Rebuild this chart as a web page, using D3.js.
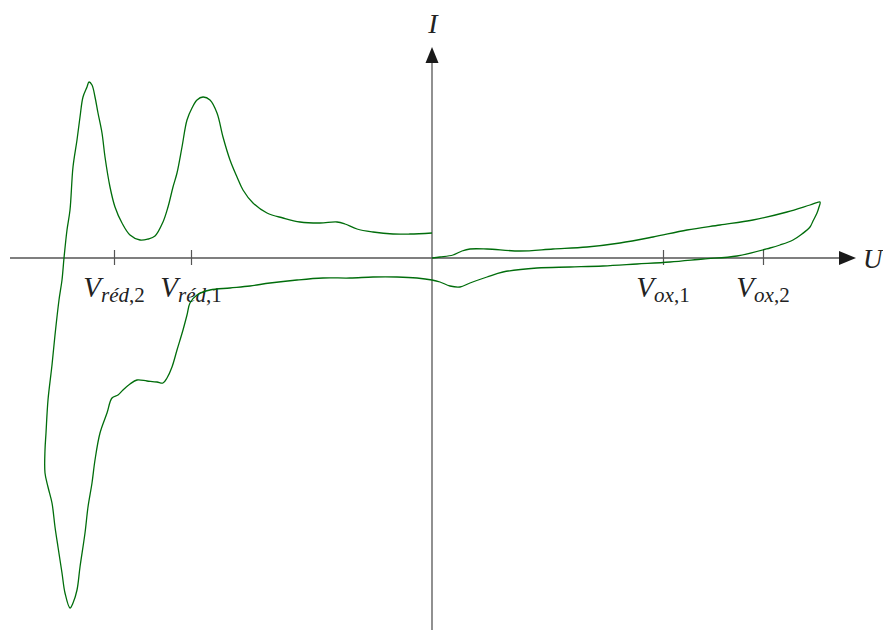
<!DOCTYPE html>
<html>
<head>
<meta charset="utf-8">
<script src="https://cdn.jsdelivr.net/npm/d3@7"></script>
<style>
  html, body { margin: 0; padding: 0; background: #fff; }
  svg { display: block; }
  text { font-family: "Liberation Serif", "DejaVu Serif", serif; font-style: italic; fill: #222; }
</style>
</head>
<body>
<svg id="chart" width="883" height="630"></svg>
<script>
// Voltammogram trace (U in V-like units, I in arbitrary units), in scan order
const uValues = [
  0, 0.04, 0.105, 0.15, 0.19, 0.275, 0.44, 0.605, 0.775, 0.94, 1.105, 1.275, 1.44, 1.605, 1.775, 1.89, 1.94,
  1.935, 1.925, 1.905, 1.89, 1.85, 1.805, 1.74, 1.69, 1.525, 1.355, 1.19, 1.025, 0.855, 0.69, 0.525, 0.355,
  0.275, 0.19, 0.14, 0.09, 0.04, 0,
  -0.075, -0.175, -0.295, -0.41, -0.545, -0.675, -0.81, -0.91, -1.01, -1.11, -1.175, -1.21, -1.225, -1.245,
  -1.275, -1.30, -1.325, -1.345, -1.375, -1.425, -1.475, -1.51, -1.545, -1.57, -1.60, -1.625, -1.66, -1.685,
  -1.70, -1.72, -1.735, -1.76, -1.775, -1.795, -1.81, -1.835, -1.85, -1.87, -1.885, -1.90, -1.92, -1.935,
  -1.935, -1.93, -1.92, -1.90, -1.885, -1.865, -1.85, -1.84, -1.825, -1.81, -1.795, -1.775, -1.76, -1.745,
  -1.725, -1.715, -1.70, -1.685, -1.67, -1.65, -1.635, -1.61, -1.585, -1.55, -1.51, -1.46, -1.42, -1.385,
  -1.345, -1.32, -1.295, -1.275, -1.25, -1.225, -1.20, -1.175, -1.145, -1.11, -1.075, -1.045, -1.01, -0.975,
  -0.945, -0.895, -0.825, -0.745, -0.66, -0.56, -0.475, -0.435, -0.375, -0.295, -0.195, -0.11, 0
];
const iValues = [
  0, 0.01, 0.03, 0.07, 0.09, 0.09, 0.07, 0.09, 0.11, 0.15, 0.21, 0.28, 0.33, 0.38, 0.46, 0.53, 0.56,
  0.51, 0.45, 0.37, 0.31, 0.24, 0.18, 0.13, 0.10, 0.02, -0.01, -0.04, -0.06, -0.08, -0.09, -0.10, -0.14,
  -0.19, -0.25, -0.29, -0.28, -0.24, -0.22,
  -0.20, -0.19, -0.19, -0.20, -0.20, -0.22, -0.25, -0.28, -0.30, -0.32, -0.37, -0.45, -0.57, -0.72,
  -0.92, -1.09, -1.20, -1.25, -1.24, -1.23, -1.22, -1.26, -1.32, -1.37, -1.40, -1.55, -1.75, -2.02,
  -2.25, -2.49, -2.75, -3.09, -3.32, -3.45, -3.50, -3.35, -3.15, -2.89, -2.69, -2.45, -2.29, -2.15,
  -1.92, -1.75, -1.42, -1.07, -0.77, -0.42, -0.22, 0, 0.28, 0.48, 0.91, 1.18, 1.41, 1.61,
  1.71, 1.76, 1.73, 1.61, 1.45, 1.25, 1.01, 0.71, 0.51, 0.35, 0.23, 0.18, 0.19, 0.22,
  0.36, 0.51, 0.71, 0.85, 1.11, 1.38, 1.50, 1.58, 1.61, 1.58, 1.45, 1.21, 0.98, 0.81,
  0.68, 0.55, 0.45, 0.40, 0.36, 0.35, 0.36, 0.34, 0.29, 0.26, 0.24, 0.24, 0.25
];

// Characteristic potentials on the U axis
const tickValues = [-1.59, -1.205, 1.155, 1.655];
const tickMain = ["V", "V", "V", "V"];
const tickSubLetters = ["réd", "réd", "ox", "ox"];
const tickSubIndex = [",2", ",1", ",1", ",2"];

const axisLabelU = "U";
const axisLabelI = "I";

const svg = d3.select("#chart");
const x = d3.scaleLinear().domain([-2.11, 2.12]).range([10, 856]);
const y = d3.scaleLinear().domain([2.11, -3.72]).range([47, 630]);

const x0 = x(0), y0 = y(0);
const axisColor = "#555";
const arrowColor = "#1a1a1a";

// Horizontal axis with ticks
const xAxis = d3.axisBottom(x).tickValues(tickValues).tickSizeInner(7).tickSizeOuter(0).tickFormat("");
const gx = svg.append("g").attr("transform", `translate(0,${y0})`).call(xAxis);
gx.select(".domain").attr("stroke", axisColor).attr("stroke-width", 1.3).attr("d", `M${x.range()[0]},0H${x.range()[1]-8}`);
gx.selectAll(".tick line").attr("stroke", axisColor).attr("stroke-width", 1.2).attr("y1", -8).attr("y2", 7);

// Vertical axis
const yAxis = d3.axisLeft(y).tickValues([]).tickSizeOuter(0);
const gy = svg.append("g").attr("transform", `translate(${x0},0)`).call(yAxis);
gy.select(".domain").attr("stroke", axisColor).attr("stroke-width", 1.3).attr("d", `M0,${y.range()[1]}V${y.range()[0]+8}`);

// Arrowheads
const xEnd = x.range()[1];
svg.append("path")
  .attr("d", `M${xEnd},${y0} L${xEnd-17},${y0-7} L${xEnd-17},${y0+7} Z`)
  .attr("fill", arrowColor);
const yEnd = y.range()[0];
svg.append("path")
  .attr("d", `M${x0},${yEnd} L${x0-6.5},${yEnd+16} L${x0+6.5},${yEnd+16} Z`)
  .attr("fill", arrowColor);

// Axis labels
svg.append("text").attr("x", xEnd + 7).attr("y", y0 + 10).attr("font-size", 27).text(axisLabelU);
svg.append("text").attr("x", x0 + 1).attr("y", 33).attr("text-anchor", "middle").attr("font-size", 28).text(axisLabelI);

// Tick labels
tickValues.forEach((v, k) => {
  const t = svg.append("text")
    .attr("x", x(v))
    .attr("y", y0 + 39)
    .attr("text-anchor", "middle")
    .attr("font-size", 29);
  t.append("tspan").text(tickMain[k]);
  t.append("tspan").attr("font-size", 21).attr("dy", 5).text(tickSubLetters[k]);
  t.append("tspan").attr("font-size", 21).attr("font-style", "normal").text(tickSubIndex[k]);
});

// Curve
const data = uValues.map((u, k) => ({ u, i: iValues[k] }));
const line = d3.line().x(d => x(d.u)).y(d => y(d.i)).curve(d3.curveCatmullRom.alpha(0.5));
svg.append("path")
  .datum(data)
  .attr("d", line)
  .attr("fill", "none")
  .attr("stroke", "#006d0b")
  .attr("stroke-width", 1.3)
  .attr("stroke-linejoin", "round");
</script>
</body>
</html>
